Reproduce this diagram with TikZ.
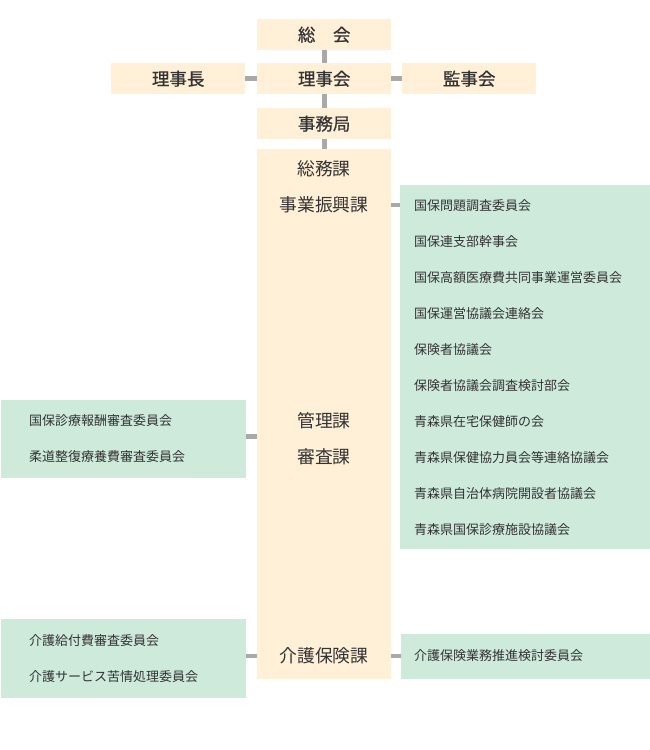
\documentclass[tikz,border=0pt]{standalone}
\usepackage{fontspec}
\setmainfont{Noto Sans CJK JP}
\newfontfamily\medfont[FakeBold=0.7]{Noto Sans CJK JP}
\definecolor{creamc}{HTML}{FFF0D7}
\definecolor{greenc}{HTML}{CEEADB}
\definecolor{linec}{HTML}{A9A9A9}
\definecolor{textc}{HTML}{333333}
\begin{document}
\begin{tikzpicture}[x=1pt,y=-1pt,
  box/.style={draw=none,inner sep=0pt,anchor=north west,text=textc},
  cbox/.style={box,fill=creamc,font=\fontsize{17.5}{20}\medfont},
  bigbox/.style={box,fill=creamc},
  gbox/.style={box,fill=greenc},
  ka/.style={inner sep=0pt,text=textc,font=\fontsize{17.8}{20}\selectfont},
  item/.style={inner sep=0pt,anchor=west,text=textc,font=\fontsize{13}{15}\selectfont},
  conn/.style={draw=linec,line width=4.6pt}
]
\useasboundingbox (0,0) rectangle (650,750);
% top boxes
\node[cbox,minimum width=134pt,minimum height=31pt] (sokai) at (257,19) {総　会};
\node[cbox,minimum width=134pt,minimum height=31pt] (rijikai) at (257,63) {理事会};
\node[cbox,minimum width=134pt,minimum height=31pt] (richo) at (111,63) {理事長};
\node[cbox,minimum width=134pt,minimum height=31pt] (kanji) at (402,63) {監事会};
\node[cbox,minimum width=134pt,minimum height=31pt] (jimu) at (257,108) {事務局};
% big box
\node[bigbox,minimum width=134pt,minimum height=530pt] (big) at (257,149) {};
\node[ka] (somu) at (324,169) {総務課};
\node[ka] (jigyo) at (324,205) {事業振興課};
\node[ka] (kanri) at (324,421) {管理課};
\node[ka] (shinsa) at (324,457) {審査課};
\node[ka] (kaigo) at (324,656) {介護保険課};
\coordinate (mid) at (324,436.5);
% green boxes
\node[gbox,minimum width=250pt,minimum height=364pt] (g1) at (400,185) {};
\node[gbox,minimum width=245pt,minimum height=78pt] (g2) at (1,400) {};
\node[gbox,minimum width=245pt,minimum height=79pt] (g3) at (1,619) {};
\node[gbox,minimum width=249pt,minimum height=45pt] (g4) at (401,634) {};
% right list
\node[item] (r1) at (414,206) {国保問題調査委員会};
\node[item] (r2) at (414,242) {国保連支部幹事会};
\node[item] (r3) at (414,278) {国保高額医療費共同事業運営委員会};
\node[item] (r4) at (414,314) {国保運営協議会連絡会};
\node[item] (r5) at (414,350) {保険者協議会};
\node[item] (r6) at (414,386) {保険者協議会調査検討部会};
\node[item] (r7) at (414,422) {青森県在宅保健師の会};
\node[item] (r8) at (414,458) {青森県保健協力員会等連絡協議会};
\node[item] (r9) at (414,494) {青森県自治体病院開設者協議会};
\node[item] (r10) at (414,530) {青森県国保診療施設協議会};
% left lists
\node[item] (l1) at (29,421) {国保診療報酬審査委員会};
\node[item] (l2) at (29,457) {柔道整復療養費審査委員会};
\node[item] (l3) at (29,641) {介護給付費審査委員会};
\node[item] (l4) at (29,677) {介護サービス苦情処理委員会};
\node[item] (r11) at (414,656) {介護保険業務推進検討委員会};
% connectors
\draw[conn] (sokai.south) -- (rijikai.north);
\draw[conn] (rijikai.south) -- (jimu.north);
\draw[conn] (jimu.south) -- (big.north);
\draw[conn] (richo.east) -- (rijikai.west);
\draw[conn] (rijikai.east) -- (kanji.west);
\draw[conn] (big.east |- jigyo) -- (g1.west |- jigyo);
\draw[conn] (big.west |- mid) -- (g2.east |- mid);
\draw[conn] (big.east |- kaigo) -- (g4.west |- kaigo);
\draw[conn] (big.west |- kaigo) -- (g3.east |- kaigo);
\end{tikzpicture}
\end{document}
